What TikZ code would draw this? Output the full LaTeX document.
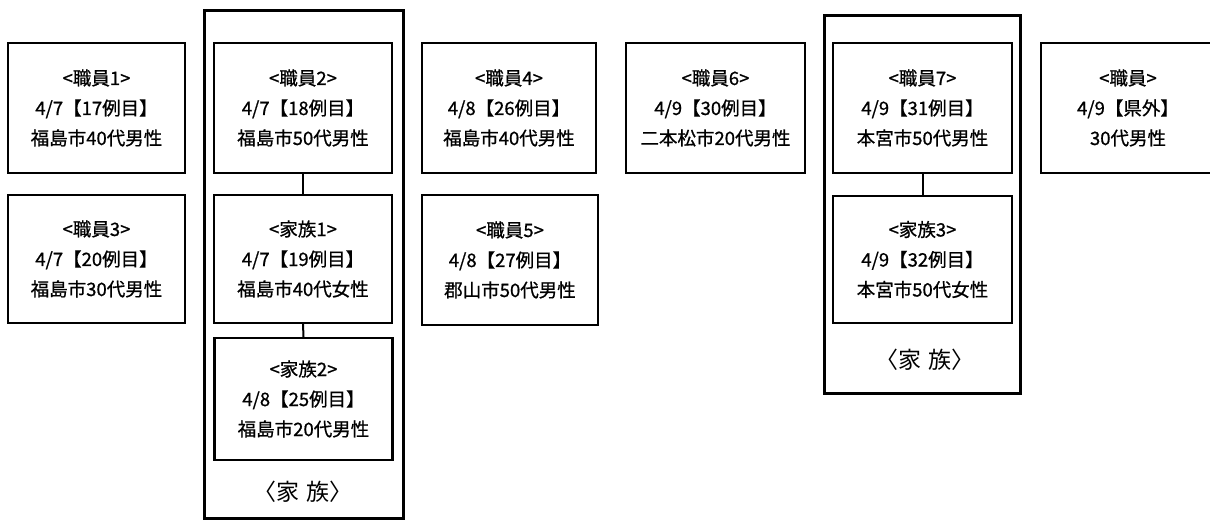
\documentclass[tikz,border=0pt]{standalone}
\usepackage{fontspec}
\setmainfont[FakeBold=0.8]{Noto Sans CJK JP}
\newfontfamily\labfont{Noto Sans CJK JP}
\begin{document}
\begin{tikzpicture}[x=1pt,y=-1pt,
  card/.style={draw=black,line width=2.2pt,inner sep=0pt,align=center,
    font=\fontsize{18.5}{30}\selectfont},
  grp/.style={draw=black,line width=3pt,inner sep=0pt},
  grplabel/.style={inner sep=0pt,font=\labfont\fontsize{23}{26}\selectfont},
  link/.style={line width=2pt}]
\useasboundingbox[fill=white] (0,0) rectangle (1210,520);
% group frames
\node[grp,minimum width=199pt,minimum height=508pt] (frameL) at (303.5,264) {};
\node[grp,minimum width=196pt,minimum height=378pt] (frameR) at (922,204) {};
% cards
\node[card,minimum width=177pt,minimum height=130pt] (s1) at (96.5,108) {<職員1>\\4/7【17例目】\\福島市40代男性};
\node[card,minimum width=177pt,minimum height=128pt] (s3) at (96.5,259) {<職員3>\\4/7【20例目】\\福島市30代男性};
\node[card,minimum width=178pt,minimum height=130pt] (s2) at (303,108) {<職員2>\\4/7【18例目】\\福島市50代男性};
\node[card,minimum width=178pt,minimum height=128pt] (f1) at (303,259) {<家族1>\\4/7【19例目】\\福島市40代女性};
\node[card,minimum width=178pt,minimum height=122pt] (f2) at (303.5,399) {<家族2>\\4/8【25例目】\\福島市20代男性};
\node[grplabel] (labL) at (303,492) {〈家\hspace{7pt}族〉};
\node[card,minimum width=174pt,minimum height=130pt] (s4) at (509,108) {<職員4>\\4/8【26例目】\\福島市40代男性};
\node[card,minimum width=176pt,minimum height=130pt] (s5) at (510,260) {<職員5>\\4/8【27例目】\\郡山市50代男性};
\node[card,minimum width=179pt,minimum height=130pt] (s6) at (715.5,108) {<職員6>\\4/9【30例目】\\二本松市20代男性};
\node[card,minimum width=179pt,minimum height=130pt] (s7) at (922.5,108) {<職員7>\\4/9【31例目】\\本宮市50代男性};
\node[card,minimum width=179pt,minimum height=127pt] (f3) at (922.5,259.5) {<家族3>\\4/9【32例目】\\本宮市50代女性};
\node[grplabel] (labR) at (925,360) {〈家\hspace{7pt}族〉};
\node[card,minimum width=174pt,minimum height=130pt] (sx) at (1128,108) {<職員>\\4/9【県外】\\30代男性};
% links
\draw[link] (s2.south) -- (f1.north);
\draw[link] (f1.south) -- (f2.north);
\draw[link] (s7.south) -- (f3.north);
\end{tikzpicture}
\end{document}
